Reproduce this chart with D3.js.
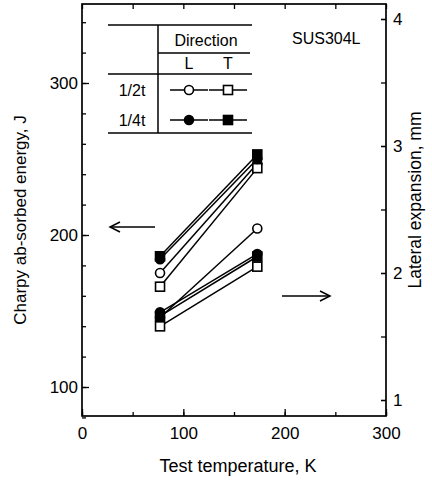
<!DOCTYPE html>
<html><head><meta charset="utf-8">
<script src="https://cdn.jsdelivr.net/npm/d3@7"></script>
<style>body{margin:0;background:#fff} svg{display:block} text{font-family:"Liberation Sans",Arial,sans-serif;fill:#000}</style>
</head><body><svg id="c" width="432" height="482"></svg>
<script>
// ---- data ----
const temperatures = [77, 173];
const energyHalfL = [175, 247];
const energyHalfT = [166, 244];
const energyQuarterL = [184, 250];
const energyQuarterT = [186, 253];
const expansionHalfL = [1.65, 2.35];
const expansionHalfT = [1.58, 2.05];
const expansionQuarterL = [1.69, 2.15];
const expansionQuarterT = [1.66, 2.13];
const xTicks = [0, 100, 200, 300];
const energyTicks = [100, 200, 300];
const expansionTicks = [1, 2, 3, 4];
const legendRows = ["1/2t", "1/4t"];
const legendCols = ["L", "T"];

const svg = d3.select("#c");
const L = 82, R = 386, T = 4, B = 416;
const x = d3.scaleLinear().domain([0, 300]).range([L, R]);
const yE = d3.scaleLinear().domain([100, 300]).range([387, 83]);
const yX = d3.scaleLinear().domain([1, 4]).range([400, 19]);

const g = svg.append("g");
g.append("rect").attr("x", L).attr("y", T).attr("width", R - L).attr("height", B - T)
  .attr("fill", "none").attr("stroke", "#000").attr("stroke-width", 1.7);

function styleAxis(sel) {
  sel.select(".domain").remove();
  sel.selectAll("line").attr("stroke", "#000").attr("stroke-width", 1.3);
  sel.selectAll("text").style("font-size", "17px").attr("fill", "#000")
    .style("font-family", '"Liberation Sans",Arial,sans-serif');
}
const xMinor = d3.range(0, 301, 50);
g.append("g").attr("transform", `translate(0,${B})`)
  .call(d3.axisBottom(x).tickValues(xMinor).tickSize(-4).tickFormat(""))
  .call(styleAxis);
g.append("g").attr("transform", `translate(0,${B})`)
  .call(d3.axisBottom(x).tickValues(xTicks).tickSize(-7).tickPadding(11).tickFormat(d3.format("d")))
  .call(styleAxis);
g.append("g").attr("transform", `translate(0,${T})`)
  .call(d3.axisTop(x).tickValues(xMinor).tickSize(-5).tickFormat(""))
  .call(styleAxis);
g.append("g").attr("transform", `translate(${L},0)`)
  .call(d3.axisLeft(yE).tickValues(d3.range(80, 352, 20)).tickSize(-4).tickFormat(""))
  .call(styleAxis);
g.append("g").attr("transform", `translate(${L},0)`)
  .call(d3.axisLeft(yE).tickValues(energyTicks).tickSize(-7).tickPadding(4).tickFormat(d3.format("d")))
  .call(styleAxis);
g.append("g").attr("transform", `translate(${R},0)`)
  .call(d3.axisRight(yX).tickValues(d3.range(1, 4.01, 0.5)).tickSize(-5).tickFormat(""))
  .call(styleAxis);
g.append("g").attr("transform", `translate(${R},0)`)
  .call(d3.axisRight(yX).tickValues(expansionTicks).tickSize(-5).tickPadding(7).tickFormat(d3.format("d")))
  .call(styleAxis);

svg.append("text").attr("x", 238).attr("y", 472).attr("text-anchor", "middle")
  .style("font-size", "18px").text("Test  temperature, K");
svg.append("text").attr("transform", `translate(26,${(T + B) / 2 + 10}) rotate(-90)`)
  .attr("text-anchor", "middle").style("font-size", "17px").text("Charpy ab-sorbed energy,  J");
svg.append("text").attr("transform", `translate(421,200) rotate(-90)`)
  .attr("text-anchor", "middle").style("font-size", "17.5px").text("Lateral expansion,  mm");

const series = [
  { e: energyHalfL, m: expansionHalfL, shape: "circle", fill: "#fff" },
  { e: energyHalfT, m: expansionHalfT, shape: "square", fill: "#fff" },
  { e: energyQuarterL, m: expansionQuarterL, shape: "circle", fill: "#000" },
  { e: energyQuarterT, m: expansionQuarterT, shape: "square", fill: "#000" }
];
function marker(sel, shape, fill, cx, cy) {
  if (shape === "circle") {
    sel.append("circle").attr("cx", cx).attr("cy", cy).attr("r", 4.5)
      .attr("fill", fill).attr("stroke", "#000").attr("stroke-width", 1.6);
  } else {
    sel.append("rect").attr("x", cx - 4.5).attr("y", cy - 4.5).attr("width", 9).attr("height", 9)
      .attr("fill", fill).attr("stroke", "#000").attr("stroke-width", 1.6);
  }
}
const line = d3.line();
const lines = g.append("g"), marks = g.append("g");
series.forEach(s => {
  const pe = temperatures.map((t, i) => [x(t), yE(s.e[i])]);
  const pm = temperatures.map((t, i) => [x(t), yX(s.m[i])]);
  [pe, pm].forEach(p => lines.append("path").attr("d", line(p)).attr("fill", "none")
    .attr("stroke", "#000").attr("stroke-width", 1.5));
  [pe, pm].forEach(p => p.forEach(([cx, cy]) => marker(marks, s.shape, s.fill, cx, cy)));
});

const lg = svg.append("g").attr("stroke", "#000").attr("stroke-width", 1.5);
lg.append("line").attr("x1", 108).attr("x2", 252).attr("y1", 25).attr("y2", 25);
lg.append("line").attr("x1", 158).attr("x2", 250).attr("y1", 53).attr("y2", 53);
lg.append("line").attr("x1", 108).attr("x2", 252).attr("y1", 74).attr("y2", 74);
lg.append("line").attr("x1", 108).attr("x2", 252).attr("y1", 133).attr("y2", 133);
lg.append("line").attr("x1", 158).attr("x2", 158).attr("y1", 25).attr("y2", 133);
svg.append("text").attr("x", 206).attr("y", 46).attr("text-anchor", "middle").style("font-size", "16px").text("Direction");
const colX = [189, 228], rowY = [90, 120];
legendCols.forEach((c, i) => svg.append("text").attr("x", colX[i]).attr("y", 69).attr("text-anchor", "middle").style("font-size", "16px").text(c));
legendRows.forEach((r, i) => svg.append("text").attr("x", 132).attr("y", rowY[i] + 6).attr("text-anchor", "middle").style("font-size", "16px").text(r));
series.forEach((s, k) => {
  const cx = colX[k % 2], cy = rowY[Math.floor(k / 2)];
  svg.append("line").attr("x1", cx - 19).attr("x2", cx + 19).attr("y1", cy).attr("y2", cy)
    .attr("stroke", "#000").attr("stroke-width", 1.5);
  marker(svg, s.shape, s.fill, cx, cy);
});

svg.append("text").attr("x", 292).attr("y", 44).style("font-size", "16px").text("SUS304L");

function arrow(x1, x2, yy) {
  const a = svg.append("g").attr("stroke", "#000").attr("stroke-width", 1.5).attr("fill", "none");
  a.append("line").attr("x1", x1).attr("x2", x2).attr("y1", yy).attr("y2", yy);
  const d = x2 > x1 ? -1 : 1;
  a.append("path").attr("d", `M${x2 + d * 10},${yy - 5}L${x2},${yy}L${x2 + d * 10},${yy + 5}`);
}
arrow(155, 110, 227);
arrow(282, 330, 296);
</script></body></html>
